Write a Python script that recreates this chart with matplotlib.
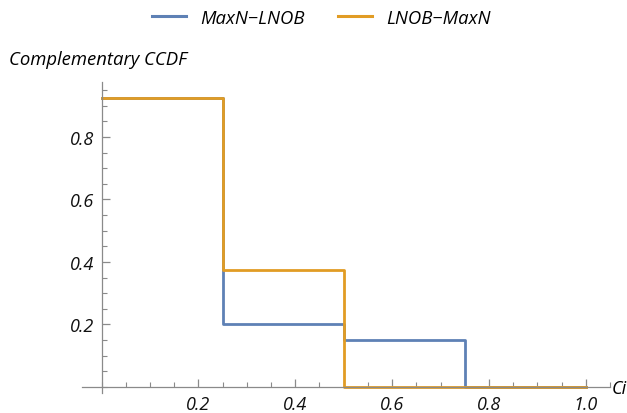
import matplotlib
matplotlib.use("Agg")
import matplotlib.pyplot as plt
from matplotlib.ticker import MultipleLocator, FixedLocator
from matplotlib.lines import Line2D

x_edges = [0.0, 0.25, 0.5, 0.75, 1.0]
maxn_lnob = [0.925, 0.2, 0.15, 0.0, 0.0]
lnob_maxn = [0.925, 0.375, 0.0, 0.0, 0.0]
series_names = ["MaxN\u2212LNOB", "LNOB\u2212MaxN"]
x_ticks = [0.2, 0.4, 0.6, 0.8, 1.0]
y_ticks = [0.2, 0.4, 0.6, 0.8]

blue = "#5E81B5"
orange = "#E19C24"
axcol = "#8a8a8a"

plt.rcParams['font.family'] = ['Open Sans', 'DejaVu Sans']

fig = plt.figure(figsize=(6.27, 4.14), dpi=100)
ax = fig.add_axes([0.131, 0.048, 0.842, 0.751])
ax.set_xlim(-0.04, 1.05)
ax.set_ylim(-0.02, 0.975)

ax.plot(x_edges, maxn_lnob, drawstyle='steps-post', color=blue, lw=2.0, zorder=2)
ax.plot(x_edges, lnob_maxn, drawstyle='steps-post', color=orange, lw=2.0, zorder=3)

for s in ['top', 'right']:
    ax.spines[s].set_visible(False)
for s in ['left', 'bottom']:
    ax.spines[s].set_position(('data', 0))
    ax.spines[s].set_color(axcol)
    ax.spines[s].set_linewidth(0.9)
    ax.spines[s].set_zorder(4)

ax.xaxis.set_major_locator(FixedLocator(x_ticks))
ax.yaxis.set_major_locator(FixedLocator(y_ticks))
ax.xaxis.set_minor_locator(MultipleLocator(0.05))
ax.yaxis.set_minor_locator(MultipleLocator(0.05))
ax.set_xticklabels([f"{v:.1f}" for v in x_ticks])
ax.set_yticklabels([f"{v:.1f}" for v in y_ticks])
ax.tick_params(which='major', direction='in', length=6, width=0.9, color=axcol,
               labelsize=13, pad=5)
ax.tick_params(which='minor', direction='in', length=3.5, width=0.8, color=axcol)
ax.tick_params(axis='x', which='major', pad=5.5)
for lab in ax.get_xticklabels() + ax.get_yticklabels():
    lab.set_style('italic')
    lab.set_color('#111111')

fig.text(0.975, 0.06, "Ci", fontsize=13, style='italic', ha='left', va='center')
fig.text(0.014, 0.855, "Complementary CCDF", fontsize=13.3, style='italic', ha='left', va='center')

handles = [Line2D([], [], color=blue, lw=2.2), Line2D([], [], color=orange, lw=2.2)]
fig.legend(handles, series_names, loc='center', bbox_to_anchor=(0.513, 0.955), ncol=2,
           frameon=False, prop={'style': 'italic', 'size': 13.3}, handlelength=1.8,
           columnspacing=1.8, handletextpad=0.8)

fig.savefig("out.png", dpi=100)
